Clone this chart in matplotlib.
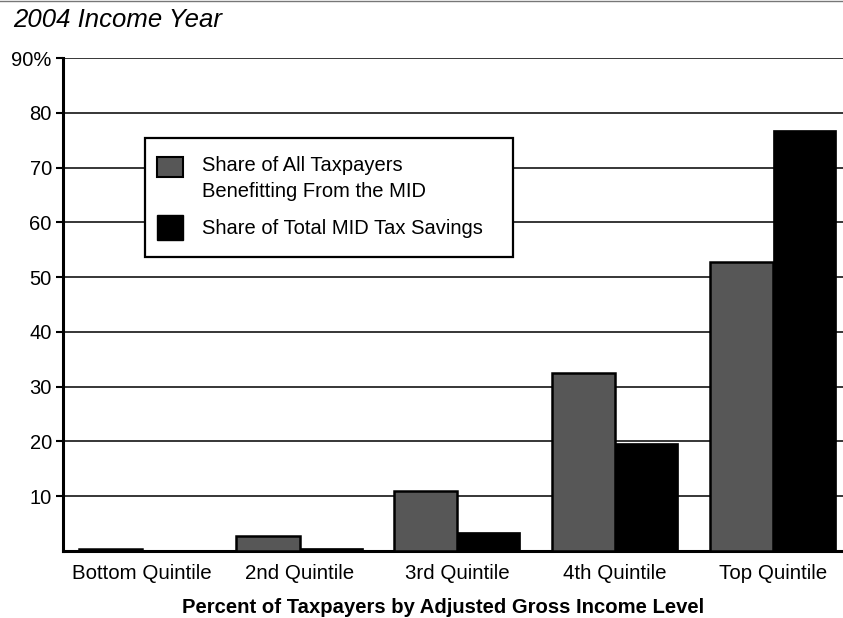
import numpy as np
import matplotlib.pyplot as plt
from matplotlib.patches import Rectangle
from matplotlib.lines import Line2D

plt.rcParams['font.family'] = ['Liberation Sans', 'DejaVu Sans']

categories = ['Bottom Quintile', '2nd Quintile', '3rd Quintile', '4th Quintile', 'Top Quintile']
share_taxpayers = [0.3, 2.8, 11.0, 32.5, 52.7]
share_savings = [0.2, 0.5, 3.5, 19.7, 76.8]
yticks = [10, 20, 30, 40, 50, 60, 70, 80, 90]
ytick_labels = ['10', '20', '30', '40', '50', '60', '70', '80', '90%']
legend_labels = ['Share of All Taxpayers\nBenefitting From the MID', 'Share of Total MID Tax Savings']

fig = plt.figure(figsize=(8.43, 6.18), dpi=100)
ax = fig.add_axes([0.0747, 0.1084, 0.9253, 0.7977])

x = np.arange(len(categories))
w = 0.4
gray = '#575757'
ax.bar(x - w / 2, share_taxpayers, w, color=gray, edgecolor='black', linewidth=1.8, zorder=3)
ax.bar(x + w / 2, share_savings, w, color='black', edgecolor='black', linewidth=0.5, zorder=3)

ax.set_xlim(-0.5, 4.445)
ax.set_ylim(0, 90)
ax.set_yticks(yticks)
ax.set_yticklabels(ytick_labels, fontsize=14.5)
ax.set_xticks(x)
ax.set_xticklabels(categories, fontsize=14.8)
ax.tick_params(axis='x', length=0, pad=9)
ax.tick_params(axis='y', length=5, width=1.5, pad=3)
ax.yaxis.grid(True, color='black', linewidth=1.1, zorder=0)
ax.set_axisbelow(True)
for s in ['right', 'top']:
    ax.spines[s].set_visible(False)
ax.spines['left'].set_linewidth(2.2)
ax.spines['bottom'].set_linewidth(2.2)

ax.set_xlabel('Percent of Taxpayers by Adjusted Gross Income Level', fontsize=14.6,
              fontweight='bold')
ax.xaxis.set_label_coords(0.487, -0.095)

fig.text(0.016, 0.956, '2004 Income Year', fontsize=18.5, style='italic', va='baseline')
fig.add_artist(Line2D([0, 1], [0.998, 0.998], color='#777777', linewidth=1))

# legend box drawn by hand
ax.add_patch(Rectangle((0.105, 0.596), 0.472, 0.242, transform=ax.transAxes,
                       facecolor='white', edgecolor='black', linewidth=1.6, zorder=5))
ax.add_patch(Rectangle((0.1205, 0.759), 0.0335, 0.040, transform=ax.transAxes,
                       facecolor=gray, edgecolor='black', linewidth=1.5, zorder=6))
ax.add_patch(Rectangle((0.1205, 0.631), 0.0335, 0.051, transform=ax.transAxes,
                       facecolor='black', edgecolor='black', linewidth=1, zorder=6))
ax.text(0.178, 0.755, legend_labels[0], transform=ax.transAxes, fontsize=14.5,
        va='center', ha='left', linespacing=1.45, zorder=7)
ax.text(0.178, 0.655, legend_labels[1], transform=ax.transAxes, fontsize=14.5,
        va='center', ha='left', zorder=7)

fig.savefig('out.png', dpi=100)
